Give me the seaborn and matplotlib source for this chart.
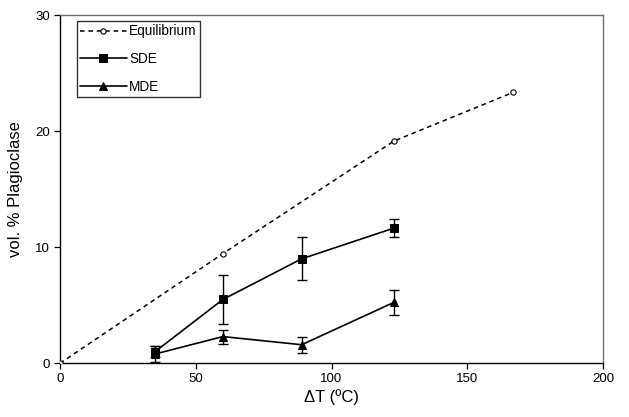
import matplotlib
matplotlib.use("Agg")
import matplotlib.pyplot as plt
import seaborn as sns
import pandas as pd

# Undercooling (deg C) and plagioclase volume fractions
eq_dt = [0, 60, 123, 167]
eq_vol = [0.0, 9.45, 19.15, 23.35]

sde_dt = [35, 60, 89, 123]
sde_vol = [1.0, 5.5, 9.0, 11.65]
sde_err = [0.5, 2.1, 1.85, 0.8]

mde_dt = [35, 60, 89, 123]
mde_vol = [0.8, 2.3, 1.6, 5.25]
mde_err = [0.7, 0.6, 0.7, 1.1]

x_ticks = [0, 50, 100, 150, 200]
y_ticks = [0, 10, 20, 30]

sns.set_theme(style="white")
plt.rcParams["font.family"] = ["Liberation Sans", "DejaVu Sans"]
plt.rcParams.update({"text.color": "black", "axes.labelcolor": "black",
                     "xtick.color": "black", "ytick.color": "black"})

fig = plt.figure(figsize=(6.29, 4.17), dpi=100)
ax = fig.add_axes([0.0954, 0.1288, 0.8633, 0.835])

eq_df = pd.DataFrame({"dt": eq_dt, "vol": eq_vol})
sde_df = pd.DataFrame({"dt": sde_dt, "vol": sde_vol})
mde_df = pd.DataFrame({"dt": mde_dt, "vol": mde_vol})

sns.lineplot(data=eq_df, x="dt", y="vol", ax=ax, color="black", lw=1.1,
             linestyle=(0, (3, 2.5)), marker="o", markersize=3.8,
             markerfacecolor="white", markeredgecolor="black",
             markeredgewidth=0.8, label="Equilibrium", zorder=3)

ax.errorbar(sde_dt, sde_vol, yerr=sde_err, fmt="none", ecolor="black",
            elinewidth=1.0, capsize=3.6, capthick=1.0, zorder=2)
sns.lineplot(data=sde_df, x="dt", y="vol", ax=ax, color="black", lw=1.2,
             marker="s", markersize=5.2, markerfacecolor="black",
             markeredgecolor="black", label="SDE", zorder=3)

ax.errorbar(mde_dt, mde_vol, yerr=mde_err, fmt="none", ecolor="black",
            elinewidth=1.0, capsize=3.6, capthick=1.0, zorder=2)
sns.lineplot(data=mde_df, x="dt", y="vol", ax=ax, color="black", lw=1.2,
             marker="^", markersize=5.8, markerfacecolor="black",
             markeredgecolor="black", label="MDE", zorder=3)

ax.set_xlim(0, 200)
ax.set_ylim(0, 30)
ax.set_xticks(x_ticks)
ax.set_yticks(y_ticks)
ax.tick_params(axis="both", direction="out", length=4, width=0.9,
               color="black", labelsize=9.5, pad=3,
               bottom=True, left=True)
ax.set_xlabel("\u0394T (\u00baC)", fontsize=12, labelpad=3)
ax.set_ylabel("vol. % Plagioclase", fontsize=12, labelpad=9)

for side in ["left", "bottom"]:
    ax.spines[side].set_color("black")
    ax.spines[side].set_linewidth(1.0)
for side in ["top", "right"]:
    ax.spines[side].set_color("#6e6e6e")
    ax.spines[side].set_linewidth(1.0)
ax.grid(False)

leg = ax.legend(loc="upper left", bbox_to_anchor=(0.031, 0.983),
                fontsize=9.8, frameon=True, fancybox=False,
                edgecolor="black", borderpad=0.25, labelspacing=1.0,
                handlelength=3.4, handletextpad=0.2, borderaxespad=0)
leg.get_frame().set_linewidth(1.0)

fig.savefig("out.png", dpi=100)
